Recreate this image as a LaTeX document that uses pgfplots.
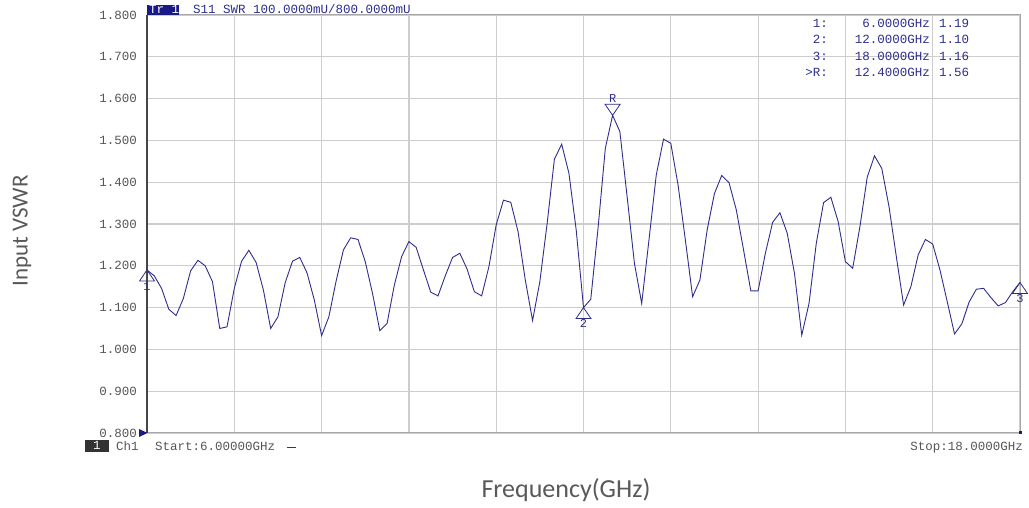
\documentclass[border=0pt]{standalone}
\usepackage{pgfplots}
\pgfplotsset{compat=1.18}
\usepackage{fontspec}
\setmainfont{Liberation Serif}
\newfontfamily\calfont{Carlito}
\newfontfamily\monofont{Liberation Mono}
\definecolor{trace}{RGB}{45,45,140}
\definecolor{navy}{RGB}{25,25,135}
\definecolor{tickgray}{RGB}{85,85,85}
\definecolor{gridgray}{RGB}{205,205,205}
\definecolor{labelgray}{RGB}{89,89,89}
\pgfdeclareplotmark{mup}{%
  \pgfpathmoveto{\pgfqpoint{0pt}{0pt}}%
  \pgfpathlineto{\pgfqpoint{-7.5pt}{-11pt}}%
  \pgfpathlineto{\pgfqpoint{7.5pt}{-11pt}}%
  \pgfpathclose\pgfusepathqstroke}
\pgfdeclareplotmark{mdown}{%
  \pgfpathmoveto{\pgfqpoint{0pt}{0pt}}%
  \pgfpathlineto{\pgfqpoint{-7.5pt}{11pt}}%
  \pgfpathlineto{\pgfqpoint{7.5pt}{11pt}}%
  \pgfpathclose\pgfusepathqstroke}
\pgfplotstableread{
x y
6.0 1.190
6.1 1.176
6.2 1.146
6.3 1.096
6.4 1.081
6.5 1.122
6.6 1.188
6.7 1.213
6.8 1.200
6.9 1.162
7.0 1.050
7.1 1.054
7.2 1.146
7.3 1.211
7.4 1.237
7.5 1.208
7.6 1.142
7.7 1.050
7.8 1.078
7.9 1.160
8.0 1.211
8.1 1.220
8.2 1.183
8.3 1.118
8.4 1.033
8.5 1.078
8.6 1.164
8.7 1.238
8.8 1.267
8.9 1.263
9.0 1.210
9.1 1.134
9.2 1.045
9.3 1.062
9.4 1.154
9.5 1.222
9.6 1.258
9.7 1.244
9.8 1.190
9.9 1.137
10.0 1.128
10.1 1.176
10.2 1.220
10.3 1.230
10.4 1.192
10.5 1.138
10.6 1.128
10.7 1.198
10.8 1.298
10.9 1.357
11.0 1.352
11.1 1.282
11.2 1.166
11.3 1.069
11.4 1.162
11.5 1.301
11.6 1.455
11.7 1.491
11.8 1.421
11.9 1.285
12.0 1.100
12.1 1.120
12.2 1.290
12.3 1.481
12.4 1.560
12.5 1.521
12.6 1.365
12.7 1.206
12.8 1.110
12.9 1.262
13.0 1.417
13.1 1.503
13.2 1.493
13.3 1.393
13.4 1.262
13.5 1.126
13.6 1.166
13.7 1.286
13.8 1.373
13.9 1.416
14.0 1.399
14.1 1.334
14.2 1.238
14.3 1.140
14.4 1.140
14.5 1.230
14.6 1.304
14.7 1.327
14.8 1.278
14.9 1.182
15.0 1.034
15.1 1.110
15.2 1.254
15.3 1.351
15.4 1.364
15.5 1.306
15.6 1.210
15.7 1.194
15.8 1.294
15.9 1.412
16.0 1.463
16.1 1.433
16.2 1.341
16.3 1.222
16.4 1.106
16.5 1.150
16.6 1.226
16.7 1.263
16.8 1.252
16.9 1.190
17.0 1.114
17.1 1.037
17.2 1.061
17.3 1.113
17.4 1.144
17.5 1.146
17.6 1.124
17.7 1.104
17.8 1.112
17.9 1.138
18.0 1.160
}\vswr
\begin{document}
\begin{tikzpicture}
\path[use as bounding box] (0,0) rectangle (1029pt,508pt);
\begin{axis}[
  at={(147pt,75pt)}, anchor=south west,
  scale only axis, width=873pt, height=418pt,
  xmin=6, xmax=18, ymin=0.8, ymax=1.8,
  xtick={6,7.2,8.4,9.6,10.8,12,13.2,14.4,15.6,16.8,18},
  xticklabels={},
  ytick={0.8,0.9,1.0,1.1,1.2,1.3,1.4,1.5,1.6,1.7,1.8},
  yticklabels={0.800,0.900,1.000,1.100,1.200,1.300,1.400,1.500,1.600,1.700,1.800},
  yticklabel style={font=\monofont\fontsize{12.5}{12.5}\selectfont, text=tickgray, anchor=east, inner sep=0pt, xshift=-10pt},
  major tick length=0pt,
  grid=major,
  grid style={gridgray, line width=1.2pt},
  axis line style={gray!70, line width=1pt},
  clip=false,
]
\draw[gray!55!black, line width=1.6pt] (rel axis cs:0,0) -- (rel axis cs:0,1);
\addplot[trace, line width=0.9pt] table[x=x,y=y] {\vswr};
\addplot[only marks, trace, mark=mdown, line width=0.8pt] coordinates {(12.4,1.56)};
\addplot[only marks, trace, mark=mup, line width=0.8pt] coordinates {(6,1.19) (12,1.10) (18,1.16)};
\coordinate (m1) at (axis cs:6,1.19);
\coordinate (m2) at (axis cs:12,1.10);
\coordinate (m3) at (axis cs:18,1.16);
\coordinate (mR) at (axis cs:12.4,1.56);
\end{axis}
% marker labels (drawn over the axis lines)
\begin{scope}[every node/.style={inner sep=0pt, text=trace, font=\monofont\fontsize{12}{12}\selectfont}]
\node[anchor=north, yshift=-12pt] at (m1) {1};
\node[anchor=north, yshift=-12pt] at (m2) {2};
\node[anchor=north, yshift=-12pt] at (m3) {3};
\node[anchor=south, yshift=13pt] at (mR) {R};
\end{scope}
% header
\fill[navy] (147pt,493pt) rectangle (179pt,502.5pt);
\node[anchor=base west, inner sep=0pt, text=white, font=\monofont\fontsize{12.5}{12.5}\selectfont] at (149pt,494.5pt) {Tr 1};
\node[anchor=base west, inner sep=0pt, text=trace, font=\monofont\fontsize{12.5}{12.5}\selectfont] at (193pt,494.5pt) {S11 SWR 100.0000mU/800.0000mU};
% marker table
\begin{scope}[every node/.style={inner sep=0pt, text=trace, font=\monofont\fontsize{12.5}{12.5}\selectfont}]
\node[anchor=base east] at (828pt,480pt) {1:};
\node[anchor=base east] at (930pt,480pt) {6.0000GHz};
\node[anchor=base west] at (939pt,480pt) {1.19};
\node[anchor=base east] at (828pt,464pt) {2:};
\node[anchor=base east] at (930pt,464pt) {12.0000GHz};
\node[anchor=base west] at (939pt,464pt) {1.10};
\node[anchor=base east] at (828pt,447pt) {3:};
\node[anchor=base east] at (930pt,447pt) {18.0000GHz};
\node[anchor=base west] at (939pt,447pt) {1.16};
\node[anchor=base east] at (828pt,431pt) {>R:};
\node[anchor=base east] at (930pt,431pt) {12.4000GHz};
\node[anchor=base west] at (939pt,431pt) {1.56};
\end{scope}
% bottom status
\fill[navy] (139pt,79pt) -- (147.5pt,75pt) -- (139pt,71pt) -- cycle;
\fill[navy] (1018.5pt,73.5pt) rectangle (1021.5pt,76.5pt);
\fill[black!80] (85pt,56pt) rectangle (109pt,68pt);
\node[anchor=base, inner sep=0pt, text=white, font=\monofont\fontsize{12.5}{12.5}\selectfont] at (97pt,58pt) {1};
\node[anchor=base west, inner sep=0pt, text=tickgray, font=\monofont\fontsize{12.5}{12.5}\selectfont] at (116pt,57pt) {Ch1};
\node[anchor=base west, inner sep=0pt, text=tickgray, font=\monofont\fontsize{12.5}{12.5}\selectfont] at (155pt,57pt) {Start:6.00000GHz};
\draw[trace, line width=0.8pt] (287pt,61pt) -- (296pt,61pt);
\node[anchor=base east, inner sep=0pt, text=tickgray, font=\monofont\fontsize{12.5}{12.5}\selectfont] at (1023pt,57pt) {Stop:18.0000GHz};
% axis titles
\node[rotate=90, text=labelgray, font=\calfont\fontsize{23}{23}\selectfont] at (22pt,277pt) {Input VSWR};
\node[anchor=base, inner sep=0pt, text=labelgray, font=\calfont\fontsize{26}{26}\selectfont] at (566pt,10.7pt) {Frequency(GHz)};
\end{tikzpicture}
\end{document}
